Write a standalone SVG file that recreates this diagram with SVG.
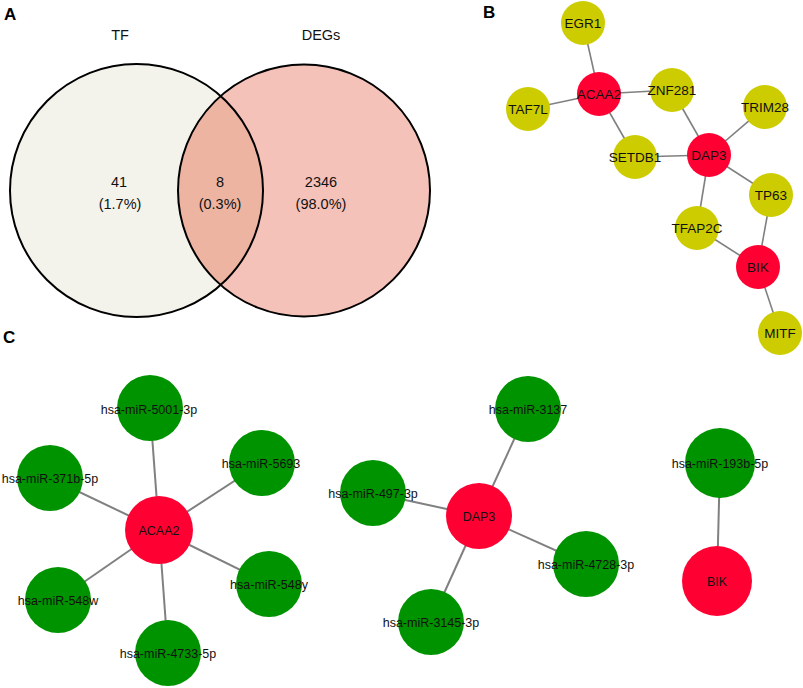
<svg xmlns="http://www.w3.org/2000/svg" width="803" height="688" viewBox="0 0 803 688">
<style>
.panel{font-family:"Liberation Sans",Arial,sans-serif;font-weight:bold;font-size:17px;fill:#000}
.vt{font-family:"Liberation Sans",Arial,sans-serif;font-size:14.5px;fill:#111;text-anchor:middle}
.bl{font-family:"Liberation Sans",Arial,sans-serif;font-size:13.5px;fill:#111;text-anchor:middle}
.cl{font-family:"Liberation Sans",Arial,sans-serif;font-size:12.5px;fill:#111;text-anchor:middle}
.y{fill:#cccc00}
.r{fill:#ff0033}
.g{fill:#009300}
.edge{stroke:#808080;stroke-width:1.6;fill:none}
.edgeC{stroke:#808080;stroke-width:2;fill:none}
</style>
<defs>
<clipPath id="clipL"><circle cx="136.5" cy="190.5" r="126.5"/></clipPath>
</defs>
<rect width="803" height="688" fill="#fff"/>

<!-- Panel labels -->
<text class="panel" x="4" y="20">A</text>
<text class="panel" x="483" y="18">B</text>
<text class="panel" x="3" y="343">C</text>

<!-- Panel A: Venn -->
<g id="venn">
<circle cx="136.5" cy="190.5" r="126.5" fill="#f4f3eb"/>
<circle cx="304" cy="190.5" r="126" fill="#f5c2b9"/>
<circle cx="304" cy="190.5" r="126" fill="#edb4a2" clip-path="url(#clipL)"/>
<circle cx="136.5" cy="190.5" r="126.5" fill="none" stroke="#000" stroke-width="2"/>
<circle cx="304" cy="190.5" r="126" fill="none" stroke="#000" stroke-width="2"/>
<text class="vt" x="120" y="40">TF</text>
<text class="vt" x="321" y="40">DEGs</text>
<text class="vt" x="119" y="187">41</text>
<text class="vt" x="120" y="209">(1.7%)</text>
<text class="vt" x="220" y="187">8</text>
<text class="vt" x="220" y="209">(0.3%)</text>
<text class="vt" x="321" y="187">2346</text>
<text class="vt" x="321" y="209">(98.0%)</text>
</g>

<!-- Connectors -->
<g id="connectors">
<line class="edge" x1="583" y1="23" x2="599" y2="94"/>
<line class="edge" x1="528" y1="109" x2="599" y2="94"/>
<line class="edge" x1="599" y1="94" x2="672" y2="90"/>
<line class="edge" x1="599" y1="94" x2="635" y2="157"/>
<line class="edge" x1="672" y1="90" x2="709" y2="155"/>
<line class="edge" x1="765" y1="107" x2="709" y2="155"/>
<line class="edge" x1="635" y1="157" x2="709" y2="155"/>
<line class="edge" x1="709" y1="155" x2="771" y2="195"/>
<line class="edge" x1="709" y1="155" x2="697" y2="228"/>
<line class="edge" x1="697" y1="228" x2="758" y2="267"/>
<line class="edge" x1="771" y1="195" x2="758" y2="267"/>
<line class="edge" x1="758" y1="267" x2="780" y2="333"/>

<line class="edgeC" x1="159" y1="530" x2="150" y2="408"/>
<line class="edgeC" x1="159" y1="530" x2="262" y2="463"/>
<line class="edgeC" x1="159" y1="530" x2="50" y2="478"/>
<line class="edgeC" x1="159" y1="530" x2="269" y2="584"/>
<line class="edgeC" x1="159" y1="530" x2="58" y2="600"/>
<line class="edgeC" x1="159" y1="530" x2="168" y2="653"/>

<line class="edgeC" x1="479" y1="516" x2="528" y2="409"/>
<line class="edgeC" x1="479" y1="516" x2="373" y2="493"/>
<line class="edgeC" x1="479" y1="516" x2="586" y2="564"/>
<line class="edgeC" x1="479" y1="516" x2="431" y2="622"/>

<line class="edgeC" x1="720" y1="463" x2="717" y2="581"/>
</g>

<!-- Panel B nodes -->
<g id="b-EGR1"><circle class="y" cx="583" cy="23" r="22"/><text class="bl" x="583" y="28">EGR1</text></g>
<g id="b-ACAA2"><circle class="r" cx="599" cy="94" r="22"/><text class="bl" x="599" y="99">ACAA2</text></g>
<g id="b-TAF7L"><circle class="y" cx="528" cy="109" r="22"/><text class="bl" x="528" y="114">TAF7L</text></g>
<g id="b-ZNF281"><circle class="y" cx="672" cy="90" r="22"/><text class="bl" x="672" y="95">ZNF281</text></g>
<g id="b-TRIM28"><circle class="y" cx="765" cy="107" r="22"/><text class="bl" x="765" y="112">TRIM28</text></g>
<g id="b-SETDB1"><circle class="y" cx="635" cy="157" r="22"/><text class="bl" x="635" y="162">SETDB1</text></g>
<g id="b-DAP3"><circle class="r" cx="709" cy="155" r="22"/><text class="bl" x="709" y="160">DAP3</text></g>
<g id="b-TP63"><circle class="y" cx="771" cy="195" r="22"/><text class="bl" x="771" y="200">TP63</text></g>
<g id="b-TFAP2C"><circle class="y" cx="697" cy="228" r="22"/><text class="bl" x="697" y="233">TFAP2C</text></g>
<g id="b-BIK"><circle class="r" cx="758" cy="267" r="22"/><text class="bl" x="758" y="272">BIK</text></g>
<g id="b-MITF"><circle class="y" cx="780" cy="333" r="22"/><text class="bl" x="780" y="338">MITF</text></g>

<!-- Panel C nodes -->
<g id="c-ACAA2"><circle class="r" cx="159" cy="530" r="34"/><text class="cl" x="159" y="535">ACAA2</text></g>
<g id="c-miR-5001-3p"><circle class="g" cx="150" cy="408" r="33"/><text class="cl" x="149" y="414">hsa-miR-5001-3p</text></g>
<g id="c-miR-5693"><circle class="g" cx="262" cy="463" r="33"/><text class="cl" x="261" y="468">hsa-miR-5693</text></g>
<g id="c-miR-371b-5p"><circle class="g" cx="50" cy="478" r="33"/><text class="cl" x="50" y="483">hsa-miR-371b-5p</text></g>
<g id="c-miR-548y"><circle class="g" cx="269" cy="584" r="33"/><text class="cl" x="269" y="589">hsa-miR-548y</text></g>
<g id="c-miR-548w"><circle class="g" cx="58" cy="600" r="33"/><text class="cl" x="58" y="605">hsa-miR-548w</text></g>
<g id="c-miR-4733-5p"><circle class="g" cx="168" cy="653" r="33"/><text class="cl" x="168" y="658">hsa-miR-4733-5p</text></g>

<g id="c-DAP3"><circle class="r" cx="479" cy="516" r="33"/><text class="cl" x="479" y="521">DAP3</text></g>
<g id="c-miR-3137"><circle class="g" cx="528" cy="409" r="33"/><text class="cl" x="528" y="414">hsa-miR-3137</text></g>
<g id="c-miR-497-3p"><circle class="g" cx="373" cy="493" r="33"/><text class="cl" x="373" y="498">hsa-miR-497-3p</text></g>
<g id="c-miR-4728-3p"><circle class="g" cx="586" cy="564" r="33"/><text class="cl" x="586" y="569">hsa-miR-4728-3p</text></g>
<g id="c-miR-3145-3p"><circle class="g" cx="431" cy="622" r="33"/><text class="cl" x="431" y="627">hsa-miR-3145-3p</text></g>

<g id="c-miR-193b-5p"><circle class="g" cx="720" cy="463" r="35"/><text class="cl" x="720" y="468">hsa-miR-193b-5p</text></g>
<g id="c-BIK"><circle class="r" cx="717" cy="581" r="35"/><text class="cl" x="717" y="586">BIK</text></g>
</svg>
